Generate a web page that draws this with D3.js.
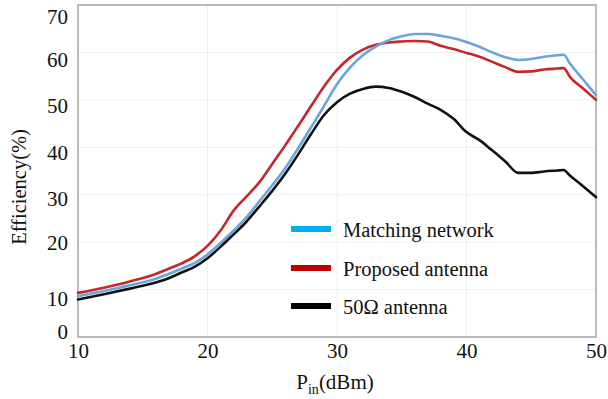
<!DOCTYPE html>
<html><head><meta charset="utf-8">
<script src="https://cdn.jsdelivr.net/npm/d3@7/dist/d3.min.js"></script>
<style>body{margin:0;background:#fff}svg{display:block}</style>
</head><body>
<svg id="c" width="608" height="399"></svg>
<script>
// ---- data ----
const pin = [10,12,14,16,17,18,19,20,21,22,23,24,25,26,27,28,29,30,31,32,33,34,35,36,37,38,39,40,41,42,43,44,45,46,47,47.5,48,49,50];
const matchingNetwork = [8.6,9.7,10.9,12.3,13.3,14.4,15.6,17.4,19.8,22.4,25.2,28.6,32.0,35.6,39.8,44.2,48.7,53.3,56.8,59.4,61.2,62.6,63.4,63.9,63.9,63.5,63.0,62.2,61.2,60.0,59.0,58.4,58.6,59.1,59.4,59.5,57.6,54.3,51.0];
const proposedAntenna = [9.3,10.4,11.7,13.3,14.4,15.5,17.0,19.2,22.4,26.6,29.6,32.6,36.5,40.4,44.5,48.7,52.8,56.3,58.9,60.6,61.6,62.1,62.3,62.4,62.3,61.4,60.7,59.9,59.1,58.0,56.9,55.9,56.0,56.4,56.6,56.7,54.8,52.4,50.0];
const antenna50 = [7.9,9.0,10.2,11.5,12.4,13.6,14.8,16.6,19.0,21.6,24.3,27.5,30.8,34.4,38.5,42.8,46.8,49.5,51.3,52.3,52.8,52.5,51.7,50.6,49.2,47.9,46.0,43.2,41.5,39.3,37.0,34.6,34.6,34.9,35.1,35.2,34.0,31.8,29.5];
const seriesNames = ["Matching network","Proposed antenna","50Ω antenna"];
const xTicks = [10,20,30,40,50];
const yTicks = [0,10,20,30,40,50,60,70];

// ---- layout / style ----
const W = 608, H = 399;
const m = {left:78, right:12, top:5, bottom:62};
const font = "'Liberation Serif','Times New Roman',serif";
const lineColors = ["#6aa6da","#c3282c","#111111"];
const legendColors = ["#00b0f0","#c00000","#000000"];
const yLabelNudge = {70:12,60:7,50:6,40:5,30:4,20:1,10:9,0:-5};

const svg = d3.select("#c");
const x = d3.scaleLinear().domain([10,50]).range([m.left, W-m.right]);
const y = d3.scaleLinear().domain([0,70]).range([H-m.bottom, m.top]);

// grid
svg.append("g").selectAll("line").data(yTicks.slice(1,-1)).join("line")
  .attr("x1",m.left).attr("x2",W-m.right).attr("y1",d=>y(d)).attr("y2",d=>y(d))
  .attr("stroke","#efefef").attr("stroke-width",1);
svg.append("g").selectAll("line").data(xTicks.slice(1,-1)).join("line")
  .attr("y1",m.top).attr("y2",H-m.bottom).attr("x1",d=>x(d)).attr("x2",d=>x(d))
  .attr("stroke","#efefef").attr("stroke-width",1);

// frame
svg.append("rect").attr("x",m.left).attr("y",m.top)
  .attr("width",W-m.left-m.right).attr("height",H-m.top-m.bottom)
  .attr("fill","none").attr("stroke","#a3a3a3").attr("stroke-width",1.5);

// axes
const gx = svg.append("g").attr("transform",`translate(0,${H-m.bottom})`)
  .call(d3.axisBottom(x).tickValues(xTicks).tickSize(0).tickPadding(6).tickFormat(d3.format("d")));
const gy = svg.append("g").attr("transform",`translate(${m.left},0)`)
  .call(d3.axisLeft(y).tickValues(yTicks).tickSize(0).tickPadding(10).tickFormat(d3.format("d")));
[gx,gy].forEach(g=>{
  g.select(".domain").remove();
  g.selectAll("text").attr("font-family",font).attr("font-size",21).attr("fill","#111");
});
gy.selectAll("text").attr("y",d=>yLabelNudge[d]||0);

// lines
const series = [matchingNetwork, proposedAntenna, antenna50];
const line = d3.line().x((d,i)=>x(pin[i])).y(d=>y(d)).curve(d3.curveMonotoneX);
[2,1,0].forEach(k=>{
  svg.append("path").datum(series[k]).attr("d",line)
    .attr("fill","none").attr("stroke",lineColors[k]).attr("stroke-width",2.6)
    .attr("stroke-linejoin","round").attr("stroke-linecap","round");
});

// legend
const lg = svg.append("g");
const legY = [229,268,306];
seriesNames.forEach((n,i)=>{
  lg.append("rect").attr("x",291).attr("y",legY[i]-3).attr("width",40).attr("height",6).attr("fill",legendColors[i]);
  lg.append("text").attr("x",343).attr("y",legY[i]+8).attr("font-family",font).attr("font-size",20.5)
    .attr("fill","#111").text(n);
});

// axis titles
const xt = svg.append("text").attr("x",335).attr("y",389).attr("text-anchor","middle")
  .attr("font-family",font).attr("font-size",21).attr("fill","#111");
xt.append("tspan").text("P");
xt.append("tspan").attr("font-size",14).attr("dy",5).text("in");
xt.append("tspan").attr("dy",-5).text("(dBm)");

svg.append("text").attr("transform","translate(26,187) rotate(-90)").attr("text-anchor","middle")
  .attr("font-family",font).attr("font-size",20.5).attr("fill","#111").text("Efficiency(%)");
</script>
</body></html>
